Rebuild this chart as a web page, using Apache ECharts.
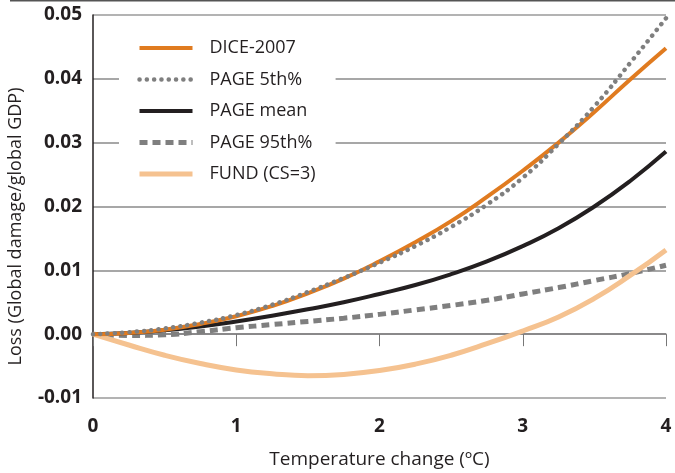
<!DOCTYPE html>
<html>
<head>
<meta charset="utf-8">
<script src="https://cdn.jsdelivr.net/npm/echarts@6/dist/echarts.min.js"></script>
<style>
  html, body { margin: 0; padding: 0; background: #fff; }
  #chart { width: 675px; height: 473px; }
</style>
</head>
<body>
<div id="chart"></div>
<script>
// temperature change (°C)
const temps = [0, 0.25, 0.5, 0.75, 1, 1.25, 1.5, 1.75, 2, 2.25, 2.5, 2.75, 3, 3.25, 3.5, 3.75, 4];

// loss as share of global GDP
const dice2007 = [0, 0.0002, 0.0007, 0.0016, 0.0028, 0.0044, 0.0064, 0.0087, 0.0114, 0.0144, 0.0177, 0.0215, 0.0256, 0.0300, 0.0348, 0.0399, 0.0448];
const page5th = [0, 0.0003, 0.0009, 0.0018, 0.0030, 0.0046, 0.0066, 0.0088, 0.0112, 0.0138, 0.0168, 0.0203, 0.0245, 0.0298, 0.0357, 0.0425, 0.0495];
const pageMean = [0, 0.0002, 0.0006, 0.0012, 0.0020, 0.0029, 0.0039, 0.0050, 0.0063, 0.0077, 0.0094, 0.0114, 0.0138, 0.0166, 0.0200, 0.0240, 0.0286];
const page95th = [0, -0.0002, -0.0001, 0.0004, 0.0010, 0.0015, 0.0020, 0.0025, 0.0031, 0.0038, 0.0045, 0.0053, 0.0063, 0.0073, 0.0084, 0.0095, 0.0108];
const fundCS3 = [0, -0.0017, -0.0033, -0.0046, -0.0056, -0.0062, -0.0065, -0.0063, -0.0057, -0.0047, -0.0033, -0.0015, 0.0005, 0.0027, 0.0056, 0.0092, 0.0132];

const seriesNames = ["DICE-2007", "PAGE 5th%", "PAGE mean", "PAGE 95th%", "FUND (CS=3)"];

const font = "'Open Sans', 'Noto Sans', sans-serif";

function pairs(vals) {
  return temps.map((t, i) => [t, vals[i]]);
}

const chart = echarts.init(document.getElementById("chart"));

chart.setOption({
  animation: false,
  backgroundColor: "#fff",
  textStyle: { fontFamily: font },
  graphic: [
    {
      type: "rect",
      shape: { x: 10, y: 0, width: 665, height: 1.5 },
      style: { fill: "#555" },
    },
  ],
  grid: {
    top: 15,
    left: 93,
    right: 9,
    bottom: 75,
    outerBoundsMode: "none",
  },
  legend: {
    data: seriesNames,
    orient: "vertical",
    left: 119,
    top: 27,
    padding: [12, 20, 12, 18],
    backgroundColor: "#fff",
    itemWidth: 53,
    itemHeight: 18,
    itemGap: 13.5,
    lineStyle: { width: "inherit" },
    itemStyle: { opacity: 0, color: "transparent", borderWidth: 0 },
    textStyle: {
      fontFamily: font,
      fontSize: 18,
      color: "#231f20",
      padding: [0, 0, 0, 12],
    },
  },
  xAxis: {
    type: "value",
    min: 0,
    max: 4,
    interval: 1,
    name: "Temperature change (ºC)",
    nameLocation: "middle",
    nameGap: 52,
    nameTextStyle: { fontFamily: font, fontSize: 19, color: "#231f20" },
    axisLine: { show: true, lineStyle: { color: "#9a9a9a", width: 1.5 } },
    axisTick: { show: true, length: 12, lineStyle: { color: "#777", width: 1 } },
    axisLabel: {
      margin: 19,
      fontFamily: font,
      fontSize: 19,
      fontWeight: "bold",
      color: "#231f20",
    },
    splitLine: { show: false },
  },
  yAxis: {
    type: "value",
    min: -0.01,
    max: 0.05,
    interval: 0.01,
    name: "Loss (Global damage/global GDP)",
    nameLocation: "middle",
    nameGap: 68,
    nameTextStyle: {
      fontFamily: font,
      fontSize: 18,
      color: "#231f20",
      padding: [0, 40, 0, 0],
    },
    axisLine: { show: true, lineStyle: { color: "#231f20", width: 1.5 } },
    axisTick: { show: false },
    axisLabel: {
      margin: 11,
      fontFamily: font,
      fontSize: 19,
      fontWeight: "bold",
      color: "#231f20",
      formatter: (v) => v.toFixed(2),
    },
    splitLine: {
      show: true,
      lineStyle: {
        color: ["#9a9a9a", "#231f20", "#8a8a8a", "#8a8a8a", "#8a8a8a", "#8a8a8a", "#9a9a9a"],
        width: 1.5,
      },
    },
  },
  series: [
    {
      name: "PAGE 95th%",
      type: "line",
      smooth: true,
      symbol: "none",
      data: pairs(page95th),
      lineStyle: { color: "#7f7f7f", width: 5, type: [8, 5] },
      itemStyle: { color: "#7f7f7f" },
      z: 3,
    },
    {
      name: "PAGE mean",
      type: "line",
      smooth: true,
      symbol: "none",
      data: pairs(pageMean),
      lineStyle: { color: "#231f20", width: 4 },
      itemStyle: { color: "#231f20" },
      z: 4,
    },
    {
      name: "FUND (CS=3)",
      type: "line",
      smooth: true,
      symbol: "none",
      data: pairs(fundCS3),
      lineStyle: { color: "#f5c290", width: 5 },
      itemStyle: { color: "#f5c290" },
      z: 5,
    },
    {
      name: "DICE-2007",
      type: "line",
      smooth: true,
      symbol: "none",
      data: pairs(dice2007),
      lineStyle: { color: "#e07b20", width: 4 },
      itemStyle: { color: "#e07b20" },
      z: 6,
    },
    {
      name: "PAGE 5th%",
      type: "line",
      smooth: true,
      symbol: "none",
      data: pairs(page5th),
      lineStyle: { color: "#7f7f7f", width: 4.5, type: [0.1, 7.2], cap: "round" },
      itemStyle: { color: "#7f7f7f" },
      z: 7,
    },
  ],
});

window.addEventListener("resize", () => chart.resize());
</script>
</body>
</html>
